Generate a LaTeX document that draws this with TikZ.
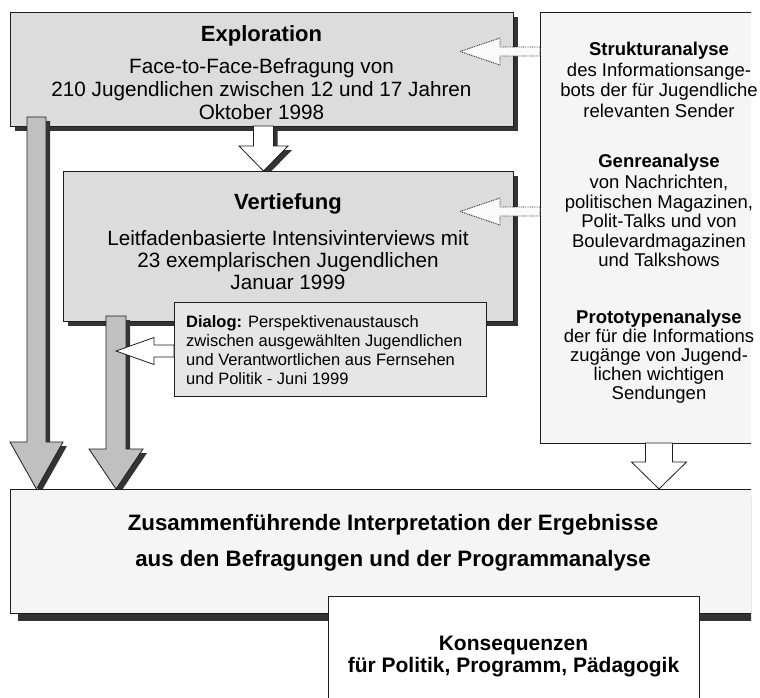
\documentclass[tikz,border=0pt]{standalone}
\usepackage{fontspec}
\setmainfont{Liberation Sans}
\usetikzlibrary{calc,shadows}
\definecolor{boxgray}{HTML}{DCDCDC}
\definecolor{dlggray}{HTML}{E6E6E6}
\definecolor{lightbox}{HTML}{F5F5F5}
\definecolor{arrowgray}{HTML}{C0C0C0}
\definecolor{shadowc}{HTML}{333333}
\definecolor{linec}{HTML}{1E1E1E}
\definecolor{dotc}{HTML}{303030}
\definecolor{dotfill}{HTML}{FAFAFA}

\newcommand\arrowdown[6]{%
  \path[#1] let \p1=(#2), \p2=(#3) in
    (\x1-#4pt,\y1) -- (\x1-#4pt,\y2+#6pt) -- (\x1-#5pt,\y2+#6pt) -- (\x1,\y2)
    -- (\x1+#5pt,\y2+#6pt) -- (\x1+#4pt,\y2+#6pt) -- (\x1+#4pt,\y1) -- cycle;}
\newcommand\arrowleft[6]{%
  \path[#1] let \p1=(#2), \p2=(#3) in
    (\x1,\y1+#4pt) -- (\x2+#6pt,\y1+#4pt) -- (\x2+#6pt,\y1+#5pt) -- (\x2,\y1)
    -- (\x2+#6pt,\y1-#5pt) -- (\x2+#6pt,\y1-#4pt) -- (\x1,\y1-#4pt) -- cycle;}
\newcommand\textlines[6]{%
  \foreach \lineText [count=\i from 0] in {#6} {\node[#1] (#2\i) at (#3,#4+#5*\i) {\lineText};}}

\begin{document}
\begin{tikzpicture}[x=1pt,y=-1pt,
  box/.style={draw=linec, line width=0.8pt, anchor=north west, inner sep=0pt, outer sep=0pt},
  shad/.style={drop shadow={shadow xshift=#1pt, shadow yshift=-#1pt, opacity=1, fill=shadowc}},
  shadowpath/.style={fill=shadowc, transform canvas={shift={(#1pt,-#1pt)}}},
  bigarrow/.style={draw=linec, line width=0.8pt, fill=arrowgray},
  whitearrow/.style={draw=linec, line width=0.8pt, fill=white},
  dotarrow/.style={draw=dotc, dash pattern=on 0.9pt off 0.9pt, line width=0.9pt, fill=dotfill},
  ttl/.style={font=\fontsize{22}{26}\selectfont\bfseries, inner sep=0pt, anchor=base},
  body/.style={font=\fontsize{20.7}{24}\selectfont, inner sep=0pt, anchor=base},
  rttl/.style={font=\fontsize{18.5}{22}\selectfont\bfseries, inner sep=0pt, anchor=base},
  rbody/.style={font=\fontsize{18.5}{22}\selectfont, inner sep=0pt, anchor=base},
  dlg/.style={font=\fontsize{16.5}{19}\selectfont, inner sep=0pt, anchor=base west},
  bot/.style={font=\fontsize{22.3}{26}\selectfont\bfseries, inner sep=0pt, anchor=base},
  kon/.style={font=\fontsize{21}{24}\selectfont\bfseries, inner sep=0pt, anchor=base},
]
\useasboundingbox (0,0) rectangle (760,697);
\coordinate (enw) at (10,12);
\coordinate (vnw) at (63,171);
\coordinate (bnw) at (10,489);

\begin{scope}
\clip (0,0) rectangle (751,697);
% right analysis box
\node[box, fill=lightbox, minimum width=238pt, minimum height=431pt] (rightbox) at (540,12) {};
% Exploration
\node[box, fill=boxgray, shad=5, minimum width=503pt, minimum height=114pt] (expl) at (enw) {};
\coordinate (a1s) at ($(expl.south west)+(26.5,-9)$);
\coordinate (a1t) at (a1s |- bnw);
\arrowdown{shadowpath=4}{a1s}{a1t}{9.5}{26.5}{47}
\arrowdown{bigarrow}{a1s}{a1t}{9.5}{26.5}{47}
\coordinate (a3s) at ($(expl.south)+(2,0)$);
\coordinate (a3t) at (a3s |- vnw);
\arrowdown{shadowpath=4}{a3s}{a3t}{10}{24.5}{25}
\arrowdown{whitearrow}{a3s}{a3t}{10}{24.5}{25}
% Vertiefung
\node[box, fill=boxgray, shad=5, minimum width=450pt, minimum height=150pt] (vert) at (vnw) {};
\coordinate (a2s) at ($(vert.south west)+(53,-5)$);
\coordinate (a2t) at (a2s |- bnw);
\arrowdown{shadowpath=4}{a2s}{a2t}{10}{27}{40}
\arrowdown{bigarrow}{a2s}{a2t}{10}{27}{40}
% Dialog
\node[box, fill=dlggray, minimum width=312pt, minimum height=94pt] (dialog) at (174,302) {};
\coordinate (a5s) at ($(dialog.north west)+(0,49)$);
\coordinate (a5t) at (a2s |- a5s);
\arrowleft{whitearrow}{a5s}{a5t}{6}{13.5}{38}
% dotted arrows
\coordinate (d1s) at ($(rightbox.north west)+(0,39.5)$);
\coordinate (d1t) at ($(expl.north east)+(-53,39.5)$);
\arrowleft{dotarrow}{d1s}{d1t}{4.5}{13.5}{40}
\coordinate (d2s) at ($(rightbox.north west)+(0,199.5)$);
\coordinate (d2t) at ($(vert.north east)+(-53,40.5)$);
\arrowleft{dotarrow}{d2s}{d2t}{4.5}{13.5}{40}
% arrow from analysis box
\coordinate (a4s) at (rightbox.south);
\coordinate (a4t) at (a4s |- bnw);
\arrowdown{whitearrow}{a4s}{a4t}{13.5}{27.5}{27}
% bottom box
\node[box, fill=lightbox, shad=8, minimum width=766pt, minimum height=124pt] (bottom) at (bnw) {};
\node[box, fill=white, minimum width=371pt, minimum height=130pt] (kons) at (328,596) {};
\end{scope}

% texts
\node[ttl] (exT) at (261.5,41) {Exploration};
\textlines{body}{exB}{261.5}{73.5}{23}{Face-to-Face-Befragung von, 210 Jugendlichen zwischen 12 und 17 Jahren, Oktober 1998}
\node[ttl] (veT) at (288,209.5) {Vertiefung};
\textlines{body}{veB}{288}{245}{22.3}{Leitfadenbasierte Intensivinterviews mit, 23 exemplarischen Jugendlichen, Januar 1999}

\node[rttl] (r1T) at (659,55.5) {Strukturanalyse};
\textlines{rbody}{r1B}{659}{76}{20.5}{des Informationsange-, bots der für Jugendliche, relevanten Sender}
\node[rttl] (r2T) at (659,167.5) {Genreanalyse};
\textlines{rbody}{r2B}{659}{188.5}{19.6}{{von Nachrichten,}, {politischen Magazinen,}, Polit-Talks und von, Boulevardmagazinen, und Talkshows}
\node[rttl] (r3T) at (659,323.5) {Prototypenanalyse};
\textlines{rbody}{r3B}{659}{342}{19.3}{der für die Informations, zugänge von Jugend-, lichen wichtigen, Sendungen}

\textlines{dlg}{dlB}{186}{327}{19.3}{{\textbf{Dialog:} Perspektivenaustausch}, zwischen ausgewählten Jugendlichen, und Verantwortlichen aus Fernsehen, und Politik - Juni 1999}

\textlines{bot}{boB}{393}{530}{36}{Zusammenführende Interpretation der Ergebnisse, aus den Befragungen und der Programmanalyse}
\textlines{kon}{koB}{513.5}{650}{22}{Konsequenzen, {für Politik, Programm, Pädagogik}}
\end{tikzpicture}
\end{document}
